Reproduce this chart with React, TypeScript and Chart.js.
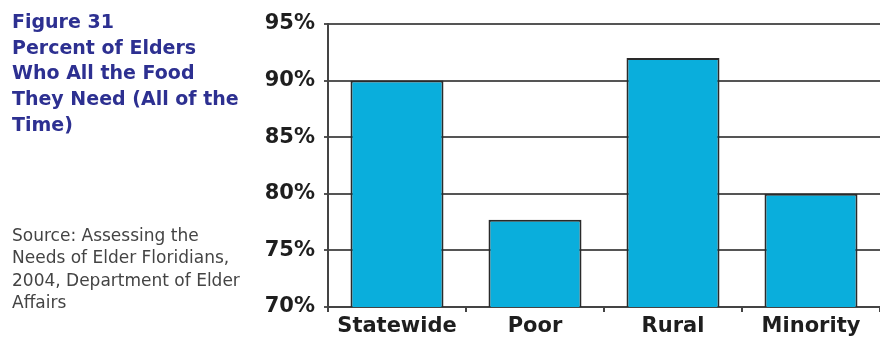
import React, { useEffect, useRef } from "react";
import { Chart, registerables } from "chart.js";

Chart.register(...registerables);

const categories = ["Statewide", "Poor", "Rural", "Minority"];
const values = [90, 77.7, 92, 80];
const yTicks = [70, 75, 80, 85, 90, 95];

const titleLines = ["Figure 31", "Percent of Elders", "Who All the Food", "They Need (All of the", "Time)"];
const sourceLines = ["Source: Assessing the", "Needs of Elder Floridians,", "2004, Department of Elder", "Affairs"];

export default function App() {
  const ref = useRef<HTMLCanvasElement | null>(null);

  useEffect(() => {
    if (!ref.current) return;
    const chart = new Chart(ref.current, {
      type: "bar",
      data: {
        labels: categories,
        datasets: [
          {
            data: values,
            backgroundColor: "#0AAEDC",
            borderColor: "#2a2a2a",
            borderWidth: 2,
            barPercentage: 0.674,
            categoryPercentage: 1,
          },
        ],
      },
      options: {
        responsive: false,
        animation: false,
        layout: { padding: { top: 24, left: 0, right: 0, bottom: 0 } },
        plugins: { legend: { display: false }, tooltip: { enabled: false } },
        scales: {
          x: {
            offset: true,
            grid: {
              offset: true,
              drawOnChartArea: false,
              drawTicks: true,
              tickLength: 5,
              color: "#444",
              lineWidth: 2,
            },
            border: { display: true, color: "#444", width: 2 },
            ticks: {
              color: "#1e1e1e",
              padding: 2,
              font: { family: "DejaVu Sans", weight: "bold", size: 21 },
            },
            afterFit: (s: any) => {
              s.height = 30;
            },
          },
          y: {
            min: 70,
            max: 95,
            afterBuildTicks: (s: any) => {
              s.ticks = yTicks.map((v) => ({ value: v }));
            },
            grid: {
              color: "#555",
              lineWidth: 2,
              tickLength: 4,
            },
            border: { display: true, color: "#444", width: 2 },
            ticks: {
              color: "#1e1e1e",
              padding: 9,
              font: { family: "DejaVu Sans", weight: "bold", size: 21 },
              callback: (v: any) => v + "%",
            },
            afterFit: (s: any) => {
              s.width = 328;
            },
          },
        },
      },
    });
    return () => chart.destroy();
  }, []);

  return (
    <div style={{ position: "fixed", left: 0, top: 0, width: 880, height: 337, overflow: "hidden", background: "#fff" }}>
      <canvas ref={ref} width={880} height={337} style={{ position: "absolute", left: 0, top: 0 }} />
      <div
        style={{
          position: "absolute",
          left: 12,
          top: 9,
          fontFamily: "DejaVu Sans",
          fontWeight: "bold",
          fontSize: 19,
          lineHeight: "25.7px",
          color: "#2D3091",
          whiteSpace: "nowrap",
        }}
      >
        {titleLines.map((l, i) => (
          <div key={i}>{l}</div>
        ))}
      </div>
      <div
        style={{
          position: "absolute",
          left: 12,
          top: 224,
          fontFamily: "DejaVu Sans",
          fontSize: 17,
          lineHeight: "22.3px",
          color: "#444",
          whiteSpace: "nowrap",
        }}
      >
        {sourceLines.map((l, i) => (
          <div key={i}>{l}</div>
        ))}
      </div>
    </div>
  );
}
